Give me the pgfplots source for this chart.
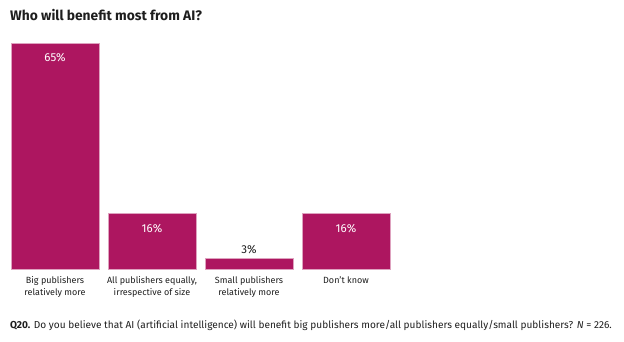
\documentclass[border=0pt]{standalone}
\usepackage{pgfplots}
\pgfplotsset{compat=1.18}
\usepackage{fontspec}
\setmainfont{Fira Sans}
\definecolor{barc}{RGB}{173,22,96}
\definecolor{txt}{RGB}{30,30,30}
\begin{document}
\begin{tikzpicture}[x=1pt,y=1pt]
\path[use as bounding box] (0,0) rectangle (624,-342);
\node[anchor=base west, font=\bfseries\fontsize{13.8}{16}\selectfont, text=txt, inner sep=0] at (10,-21) {Who will benefit most from AI?};
\begin{axis}[
  at={(0pt,-269pt)}, anchor=south west,
  scale only axis, width=624pt, height=226pt,
  xmin=0, xmax=624, ymin=0, ymax=65,
  axis line style={draw=none},
  ytick=\empty,
  xtick={55,152,249,346},
  xticklabels={{Big publishers\\relatively more},{All publishers equally,\\irrespective of size},{Small publishers\\relatively more},{Don't know}},
  xticklabel style={align=center, font=\fontsize{9}{11.5}\selectfont, text=txt, anchor=north, yshift=-4pt},
  major tick length=0pt,
  clip=false,
  /pgf/number format/assume math mode=true,
]
\addplot[ybar, bar width=88pt, bar shift=0pt, fill=barc, draw=barc!40, line width=0.4pt,
  nodes near coords={\pgfmathprintnumber{\pgfplotspointmeta}\%},
  every node near coord/.append style={anchor=north, yshift=-7pt, text=white, font=\fontsize{11.5}{13}\selectfont}]
  coordinates {(55,65) (152,16) (346,16)};
\addplot[ybar, bar width=88pt, bar shift=0pt, fill=barc, draw=barc!40, line width=0.4pt,
  nodes near coords={\pgfmathprintnumber{\pgfplotspointmeta}\%},
  every node near coord/.append style={anchor=south, yshift=1pt, text=txt, font=\fontsize{11.5}{13}\selectfont}]
  coordinates {(249,3)};
\end{axis}
\node[anchor=base west, font=\fontsize{10.1}{12}\selectfont, text=txt, inner sep=0] at (10,-328) {\textbf{Q20.} Do you believe that AI (artificial intelligence) will benefit big publishers more/all publishers equally/small publishers? \textit{N} = 226.};
\end{tikzpicture}
\end{document}
